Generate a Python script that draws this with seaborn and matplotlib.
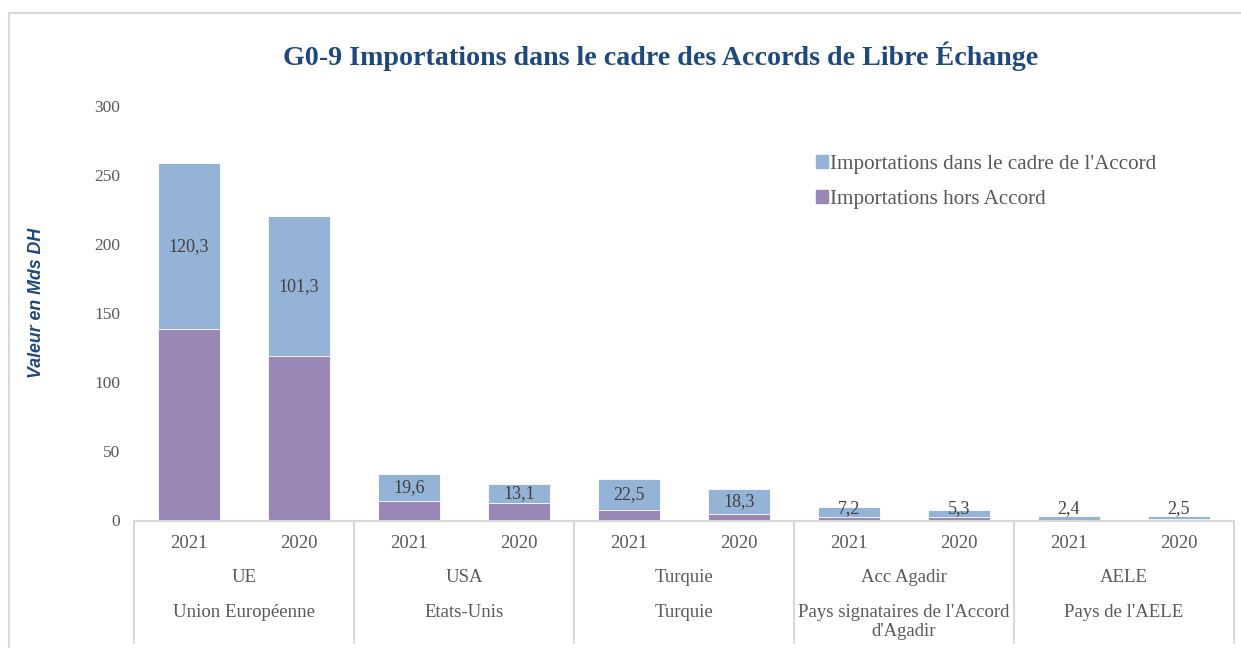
import numpy as np
import pandas as pd
import seaborn as sns
import matplotlib.pyplot as plt
from matplotlib.patches import Patch
from matplotlib.transforms import blended_transform_factory

# data (Mds DH)
years = ["2021", "2020", "2021", "2020", "2021", "2020", "2021", "2020", "2021", "2020"]
groups_short = ["UE", "USA", "Turquie", "Acc Agadir", "AELE"]
groups_long = ["Union Européenne", "Etats-Unis", "Turquie",
               "Pays signataires de l'Accord\nd'Agadir", "Pays de l'AELE"]
dans_accord = [120.3, 101.3, 19.6, 13.1, 22.5, 18.3, 7.2, 5.3, 2.4, 2.5]
hors_accord = [138.4, 119.0, 14.0, 13.0, 7.6, 4.4, 2.8, 2.3, 0.6, 1.0]
value_labels = ["120,3", "101,3", "19,6", "13,1", "22,5", "18,3", "7,2", "5,3", "2,4", "2,5"]

blue = "#95B3D7"
purple = "#9B87B5"
navy = "#1F497D"
grey_txt = "#595959"
line_col = "#D9D9D9"

df = pd.DataFrame({
    "pos": [f"{i}" for i in range(len(years))],
    "hors": hors_accord,
    "dans": dans_accord,
})
df["total"] = df["hors"] + df["dans"]

sns.set_style("white")
plt.rcParams["font.family"] = ["Liberation Serif", "DejaVu Serif"]

fig = plt.figure(figsize=(12.41, 6.48), dpi=100)
ax = fig.add_axes([134 / 1241, 1 - 520.5 / 648, 1100 / 1241, 414.5 / 648])

sns.barplot(data=df, x="pos", y="total", color=blue, width=0.565,
            saturation=1, ax=ax, edgecolor="white", linewidth=0.6)
sns.barplot(data=df, x="pos", y="hors", color=purple, width=0.565,
            saturation=1, ax=ax, edgecolor="white", linewidth=0.6)

ax.set_ylim(0, 300)
ax.set_xlim(-0.5, len(years) - 0.5)
ax.set_yticks(range(0, 301, 50))
ax.tick_params(axis="y", labelsize=12.5, labelcolor=grey_txt, length=0, pad=10)
ax.set_xticks([])
ax.set_xlabel("")
ax.set_ylabel("")
for s in ["top", "right", "left"]:
    ax.spines[s].set_visible(False)
ax.spines["bottom"].set_color(line_col)
ax.spines["bottom"].set_linewidth(1.5)

# value labels in the middle of the "dans l'Accord" segment (kept above the axis for tiny bars)
for i, (h, d, lab) in enumerate(zip(hors_accord, dans_accord, value_labels)):
    ax.text(i, max(h + d / 2, 8.5), lab, ha="center", va="center", fontsize=13, color="#404040")

# multi-level category axis
trans = blended_transform_factory(ax.transData, fig.transFigure)
for i, y in enumerate(years):
    ax.text(i, 1 - 543 / 648, y, transform=trans, ha="center", va="center",
            fontsize=13.5, color=grey_txt)
for g, (s, l) in enumerate(zip(groups_short, groups_long)):
    xc = 2 * g + 0.5
    ax.text(xc, 1 - 577 / 648, s, transform=trans, ha="center", va="center",
            fontsize=13.5, color=grey_txt)
    ax.text(xc, 1 - 604 / 648, l, transform=trans, ha="center", va="top",
            fontsize=13.5, color=grey_txt, linespacing=1.15)
for xb in np.arange(-0.5, len(years), 2):
    ax.plot([xb, xb], [1 - 520.5 / 648, 1 - 643 / 648], transform=trans,
            color=line_col, lw=1.5, clip_on=False)

# legend
handles = [Patch(color=blue, label="Importations dans le cadre de l'Accord"),
           Patch(color=purple, label="Importations hors Accord")]
fig.legend(handles=handles, loc="upper left", bbox_to_anchor=(797 / 1241, 1 - 136 / 648),
           frameon=False, fontsize=15.2, labelcolor=grey_txt, handlelength=0.55,
           handleheight=0.55, handletextpad=0.12, labelspacing=0.75)

fig.text(661 / 1241, 1 - 56 / 648, "G0-9 Importations dans le cadre des Accords de Libre Échange",
         ha="center", va="center", fontsize=20.2, fontweight="bold", color=navy)
fig.text(37 / 1241, 1 - 303 / 648, "Valeur en Mds DH", rotation=90, ha="center", va="center",
         fontsize=12.8, fontweight="bold", fontstyle="italic", color=navy,
         family=["Liberation Sans", "DejaVu Sans"])

# outer chart border (left and top visible)
fig.add_artist(plt.Line2D([8.5 / 1241, 8.5 / 1241], [0, 1 - 12.5 / 648],
                          transform=fig.transFigure, color=line_col, lw=1.5))
fig.add_artist(plt.Line2D([8.5 / 1241, 1], [1 - 12.5 / 648, 1 - 12.5 / 648],
                          transform=fig.transFigure, color=line_col, lw=1.5))

fig.savefig("out.png", dpi=100)
